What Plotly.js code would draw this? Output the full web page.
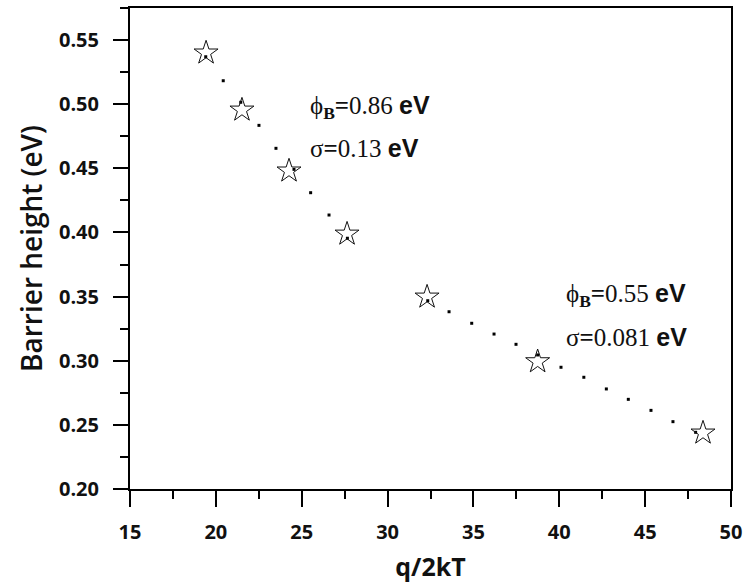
<!DOCTYPE html>
<html>
<head>
<meta charset="utf-8">
<script src="https://cdn.plot.ly/plotly-3.0.1.min.js"></script>
<style>html,body{margin:0;padding:0;background:#fff;}#chart{width:743px;height:583px;}</style>
</head>
<body>
<div id="chart"></div>
<script>
// Measured data (stars)
var starX = [19.43, 21.52, 24.26, 27.64, 32.30, 38.74, 48.37];
var starY = [0.540, 0.4955, 0.448, 0.3988, 0.3497, 0.2993, 0.2437];

// Fit points, low-q/2kT region (dotted)
var fit1X = [19.41, 20.43, 21.45, 22.51, 23.50, 24.55, 25.52, 26.59, 27.66];
var fit1Y = [0.537, 0.5183, 0.5015, 0.4835, 0.4656, 0.4492, 0.4310, 0.4136, 0.3955];

// Fit points, high-q/2kT region (dotted)
var fit2X = [32.34, 33.58, 34.90, 36.20, 37.48, 38.74, 40.10, 41.43, 42.74, 44.02, 45.34, 46.62, 47.94];
var fit2Y = [0.3468, 0.3382, 0.3292, 0.3208, 0.3128, 0.3045, 0.2949, 0.2871, 0.2780, 0.2699, 0.2613, 0.2525, 0.2442];

// Tick labels
var xTicks = [15, 20, 25, 30, 35, 40, 45, 50];
var yTicks = [0.20, 0.25, 0.30, 0.35, 0.40, 0.45, 0.50, 0.55];

// Annotation texts
var eV = ' <span style="font-family:\'Liberation Sans\';font-weight:bold">eV</span>';
var label1a = 'ϕ<sub><b>B</b></sub><b>=</b>0.86' + eV;
var label1b = 'σ<b>=</b>0.13' + eV;
var label2a = 'ϕ<sub><b>B</b></sub><b>=</b>0.55' + eV;
var label2b = 'σ<b>=</b>0.081' + eV;

var traces = [
  {x: fit1X, y: fit1Y, mode: 'markers', type: 'scatter', showlegend: false,
   marker: {symbol: 'square', size: 3, color: '#000'}},
  {x: fit2X, y: fit2Y, mode: 'markers', type: 'scatter', showlegend: false,
   marker: {symbol: 'square', size: 3, color: '#000'}},
  {x: starX, y: starY, mode: 'markers', type: 'scatter', showlegend: false,
   marker: {symbol: 'star-open', size: 18, color: '#111', line: {width: 1, color: '#111'}}}
];

var tickFont = {family: 'Open Sans', size: 20, color: '#111', weight: 700};
var annFont = {family: 'Liberation Serif', size: 25, color: '#111'};

var layout = {
  width: 743, height: 583,
  margin: {l: 130, r: 12, t: 8, b: 94},
  paper_bgcolor: '#fff', plot_bgcolor: '#fff',
  showlegend: false,
  xaxis: {
    range: [15, 50], tickvals: xTicks, ticktext: xTicks.map(String),
    showgrid: false, zeroline: false,
    showline: true, linecolor: '#000', linewidth: 2, mirror: true,
    ticks: 'outside', ticklen: 16, tickwidth: 2, tickcolor: '#000',
    ticklabelstandoff: 8, ticklabeloverflow: 'allow',
    minor: {ticks: 'outside', ticklen: 8, tickwidth: 2, tickcolor: '#000', dtick: 2.5, tick0: 15, showgrid: false},
    tickfont: tickFont,
    title: {text: 'q/2kT', font: {family: 'Open Sans', size: 25, color: '#111', weight: 700}, standoff: 14}
  },
  yaxis: {
    range: [0.20, 0.575], tickvals: yTicks, ticktext: yTicks.map(function(v){return v.toFixed(2);}),
    showgrid: false, zeroline: false,
    showline: true, linecolor: '#000', linewidth: 2, mirror: true,
    ticks: 'outside', ticklen: 15, tickwidth: 2, tickcolor: '#000',
    ticklabelstandoff: 10, ticklabeloverflow: 'allow',
    minor: {ticks: 'outside', ticklen: 8, tickwidth: 2, tickcolor: '#000', dtick: 0.025, tick0: 0.2, showgrid: false},
    tickfont: tickFont,
    title: {text: 'Barrier height (eV)', font: {family: 'Open Sans', size: 28, color: '#111', weight: 600}, standoff: 8}
  },
  annotations: [
    {x: 25.37, y: 0.4978, xref: 'x', yref: 'y', text: label1a, showarrow: false, xanchor: 'left', yanchor: 'middle', font: annFont},
    {x: 25.37, y: 0.4658, xref: 'x', yref: 'y', text: label1b, showarrow: false, xanchor: 'left', yanchor: 'middle', font: annFont},
    {x: 40.28, y: 0.3512, xref: 'x', yref: 'y', text: label2a, showarrow: false, xanchor: 'left', yanchor: 'middle', font: annFont},
    {x: 40.28, y: 0.3185, xref: 'x', yref: 'y', text: label2b, showarrow: false, xanchor: 'left', yanchor: 'middle', font: annFont}
  ]
};

Plotly.newPlot('chart', traces, layout, {displayModeBar: false, staticPlot: true});
</script>
</body>
</html>
